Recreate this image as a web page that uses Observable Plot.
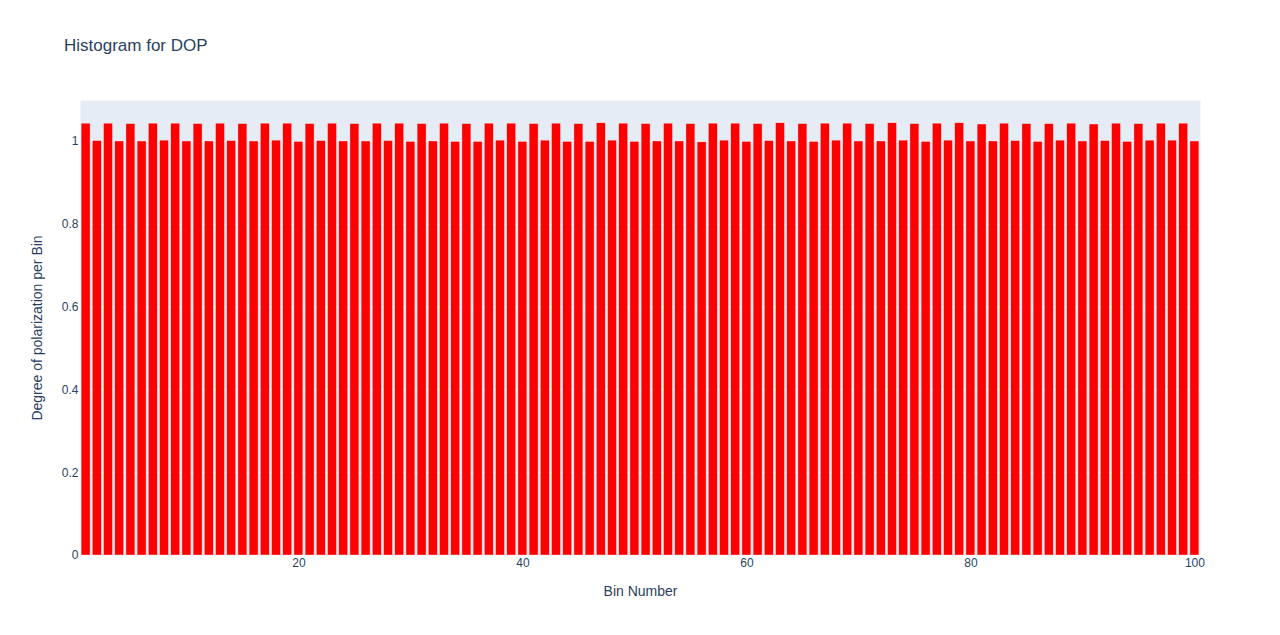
<!DOCTYPE html>
<html>
<head>
<meta charset="utf-8">
<script src="https://cdn.jsdelivr.net/npm/d3@7"></script>
<script src="https://cdn.jsdelivr.net/npm/@observablehq/plot@0.6"></script>
<style>
  html, body { margin: 0; padding: 0; background: #fff; }
  #wrap { position: relative; width: 1280px; height: 635px; font-family: "Liberation Sans", Arial, sans-serif; }
  #title { position: absolute; left: 64px; top: 36px; font-size: 17px; color: #2a3f5f; white-space: nowrap; }
  #chart { position: absolute; left: 0; top: 0; }
</style>
</head>
<body>
<div id="wrap">
  <div id="chart"></div>
  <div id="title">Histogram for DOP</div>
</div>
<script>
const titleText = "Histogram for DOP";
const xLabel = "Bin Number";
const yLabel = "Degree of polarization per Bin";
const bins = d3.range(1, 101);
const dop = [
  1.043, 1.001, 1.043, 1.000, 1.042, 1.000, 1.043, 1.002, 1.043, 1.000,
  1.042, 1.000, 1.043, 1.001, 1.042, 1.000, 1.043, 1.002, 1.043, 0.999,
  1.042, 1.001, 1.043, 1.000, 1.042, 1.000, 1.043, 1.001, 1.043, 0.999,
  1.042, 1.000, 1.043, 0.999, 1.042, 0.999, 1.043, 1.002, 1.043, 0.999,
  1.042, 1.002, 1.043, 0.999, 1.042, 0.999, 1.044, 1.002, 1.043, 0.999,
  1.042, 1.000, 1.043, 1.000, 1.042, 0.998, 1.043, 1.002, 1.043, 0.999,
  1.042, 1.001, 1.044, 1.000, 1.042, 0.999, 1.043, 1.002, 1.043, 1.000,
  1.042, 1.000, 1.044, 1.002, 1.042, 0.999, 1.043, 1.002, 1.044, 1.000,
  1.041, 1.000, 1.043, 1.001, 1.042, 0.999, 1.042, 1.002, 1.043, 1.000,
  1.041, 1.001, 1.043, 0.999, 1.042, 1.002, 1.043, 1.002, 1.043, 1.000
];
const xTicks = [20, 40, 60, 80, 100];
const yTicks = [0, 0.2, 0.4, 0.6, 0.8, 1];

const data = bins.map((b, i) => ({bin: b, value: dop[i]}));

const chart = Plot.plot({
  width: 1280,
  height: 635,
  marginLeft: 80,
  marginRight: 80,
  marginTop: 100,
  marginBottom: 80,
  style: {fontFamily: "'Liberation Sans', Arial, sans-serif", fontSize: "12px", color: "#2a3f5f", background: "transparent"},
  x: {domain: [0.5, 100.5]},
  y: {domain: [0, 1.099]},
  marks: [
    Plot.frame({fill: "#E5ECF6", stroke: null}),
    Plot.gridY(yTicks, {stroke: "white", strokeOpacity: 1, strokeWidth: 1}),
    Plot.rectY(data, {
      x1: d => d.bin - 0.4,
      x2: d => d.bin + 0.4,
      y: "value",
      fill: "#ff0000",
      stroke: "#ffffff",
      strokeWidth: 0.5,
      strokeOpacity: 0.7
    }),
    Plot.axisX(xTicks, {
      tickSize: 0, tickPadding: 3, fontSize: 12, fill: "#2a3f5f",
      label: xLabel, labelAnchor: "center", labelOffset: 40, labelArrow: "none"
    }),
    Plot.axisY(yTicks, {
      tickSize: 0, tickPadding: 2, fontSize: 12, fill: "#2a3f5f",
      tickFormat: d => String(d),
      label: yLabel, labelAnchor: "center", labelOffset: 48, labelArrow: "none"
    })
  ]
});
chart.querySelectorAll("g[aria-label='x-axis label'] text, g[aria-label='y-axis label'] text").forEach(t => t.style.fontSize = "14px");
document.getElementById("chart").appendChild(chart);
</script>
</body>
</html>
